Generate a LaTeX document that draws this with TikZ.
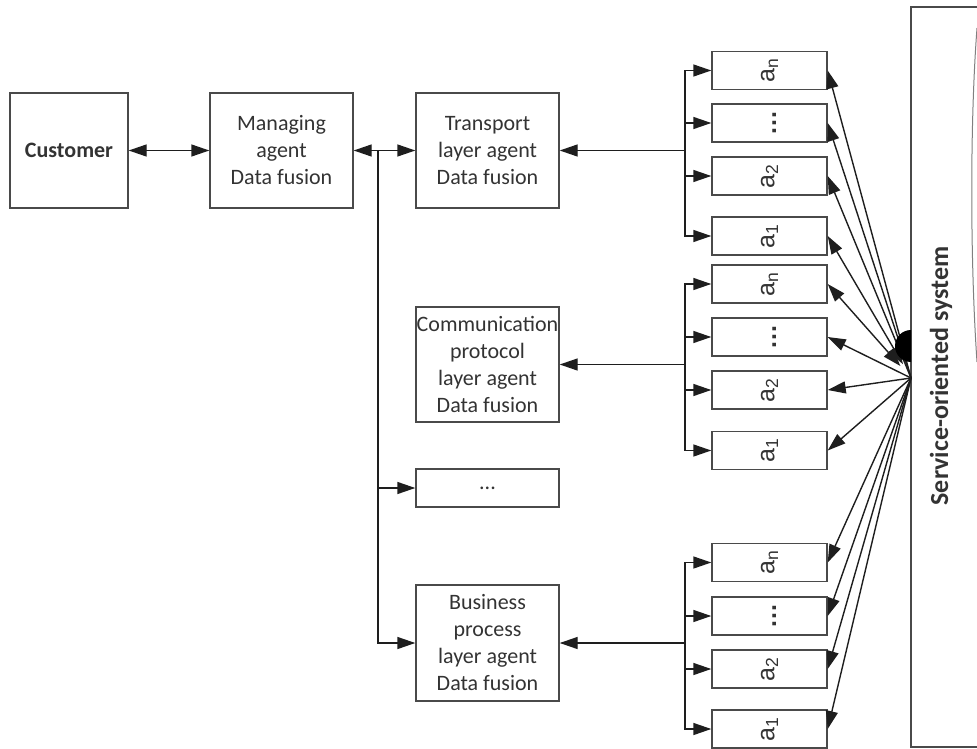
\documentclass[tikz,border=0pt]{standalone}
\usepackage{fontspec}
\usepackage{graphicx}
\setmainfont{Carlito}
\newfontfamily\arialfont{Liberation Sans}
\usetikzlibrary{arrows.meta,calc}
\definecolor{boxgray}{HTML}{4A4A4A}
\definecolor{textgray}{HTML}{333333}
\definecolor{linegray}{HTML}{1E1E1E}
\begin{document}
\begin{tikzpicture}[x=1pt,y=-1pt,
  >={Triangle[length=18pt,width=12pt]},
  box/.style={draw=boxgray, line width=1.4pt, inner sep=0pt, align=center, text=textgray,
              font=\fontsize{22}{27}\selectfont, minimum width=143pt},
  abox/.style={draw=boxgray, line width=1.4pt, inner sep=0pt, text=textgray,
               minimum width=115pt, minimum height=38pt, font=\arialfont\fontsize{25}{25}\selectfont},
  conn/.style={line width=1.4pt, draw=linegray}]
\useasboundingbox (0,0) rectangle (977,749);

% left column
\node[box, minimum width=118pt, minimum height=115pt, font=\bfseries\fontsize{22}{27}\selectfont] (cu) at (69,150.5) {Customer};
\node[box, minimum height=115pt] (mg) at (281.5,150.5) {Managing\\agent\\Data fusion};
\node[box, minimum height=115pt] (tr) at (487.5,150.5) {Transport\\layer agent\\Data fusion};
\node[box, minimum height=115pt] (cp) at (487.5,364.5) {Communication\\protocol\\layer agent\\Data fusion};
\node[box, minimum height=38pt] (dt) at (487.5,488) {...};
\node[box, minimum height=116pt] (bp) at (487.5,643) {Business\\process\\layer agent\\Data fusion};

% a boxes
\newcommand{\an}{\rotatebox{90}{a\textsubscript{n}}}
\newcommand{\aii}{\rotatebox{90}{a\textsubscript{2}}}
\newcommand{\ai}{\rotatebox{90}{a\textsubscript{1}}}
\newcommand{\adots}{\rotatebox{90}{\textbf{.\kern1.5pt.\kern1.5pt.}\vphantom{a}}}
\node[abox] (t1) at (769.5,70.5) {\an};
\node[abox] (t2) at (769.5,123) {\adots};
\node[abox] (t3) at (769.5,176) {\aii};
\node[abox] (t4) at (769.5,236) {\ai};
\node[abox] (m1) at (769.5,284) {\an};
\node[abox] (m2) at (769.5,337) {\adots};
\node[abox] (m3) at (769.5,390) {\aii};
\node[abox] (m4) at (769.5,450.5) {\ai};
\node[abox] (b1n) at (769.5,562.5) {\an};
\node[abox] (b2n) at (769.5,616) {\adots};
\node[abox] (b3n) at (769.5,669) {\aii};
\node[abox] (b4n) at (769.5,729) {\ai};

% service-oriented system
\draw[draw=boxgray, line width=1.5pt] (978,7) -- (911,7) -- (911,747) -- (978,747);
\draw[draw=gray, line width=1pt] (977,28) .. controls (970,120) and (970,260) .. (977,362);
\node[rotate=90, text=textgray, font=\bfseries\fontsize{26}{26}\selectfont] (sos) at (941,376) {Service-oriented system};

% left connectors
\coordinate (j) at (378,150.5);
\draw[conn,<->] (cu.east) -- (mg.west);
\draw[conn,<->] (mg.east) -- (tr.west);
\draw[conn,->] (j) |- (dt.west);
\draw[conn,->] (j) |- (bp.west);

% buses
\coordinate (ba) at (685,150.5);
\coordinate (bb) at (685,364.5);
\coordinate (bc) at (685,643);
\draw[conn,->] (ba) -- (tr.east);
\draw[conn,->] (bb) -- (cp.east);
\draw[conn,->] (bc) -- (bp.east);
\foreach \n in {t1,t2,t3,t4} \draw[conn,->] (ba) |- (\n.west);
\foreach \n in {m1,m2,m3,m4} \draw[conn,->] (bb) |- (\n.west);
\foreach \n in {b1n,b2n,b3n,b4n} \draw[conn,->] (bc) |- (\n.west);

% hub
\coordinate (hub) at (911,378);
\foreach \n in {t1,t2,t3,m2,m3,m4,b1n,b2n,b3n,b4n} \draw[conn,->] (hub) -- (\n.east);
\draw[conn,<->,shorten <=16pt] (hub) -- (t4.east);
\draw[conn,<->,shorten <=16pt] (hub) -- (m1.east);
\fill[black] (911,362) arc (90:270:16) -- cycle;
\end{tikzpicture}
\end{document}
